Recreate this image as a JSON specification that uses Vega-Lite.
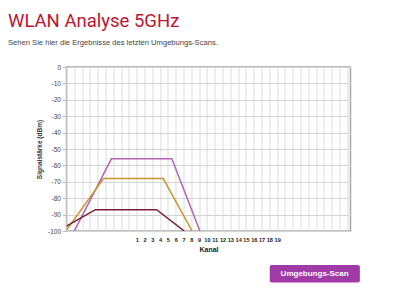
{
  "$schema": "https://vega.github.io/schema/vega-lite/v6.json",
  "width": 284,
  "height": 164,
  "autosize": {"type": "none"},
  "padding": {"left": 66.5, "top": 67, "right": 49.5, "bottom": 72},
  "background": "white",
  "config": {
    "view": {"stroke": "#a6a6a6", "strokeWidth": 1.5},
    "font": "Liberation Sans"
  },
  "title": {
    "text": "WLAN Analyse 5GHz",
    "subtitle": "Sehen Sie hier die Ergebnisse des letzten Umgebungs-Scans.",
    "anchor": "start",
    "frame": "group",
    "dx": -58.5,
    "offset": 17,
    "font": "Roboto",
    "fontSize": 18.5,
    "fontWeight": 400,
    "color": "#bf1330",
    "subtitleFont": "Liberation Sans",
    "subtitleFontSize": 7.6,
    "subtitleColor": "#444444",
    "subtitlePadding": 9
  },
  "encoding": {
    "x": {
      "field": "ch",
      "type": "quantitative",
      "scale": {"domain": [-8, 28.4], "nice": false, "zero": false},
      "axis": {
        "title": "Kanal",
        "titleFontSize": 7,
        "titleFontWeight": "bold",
        "titleColor": "#222222",
        "titlePadding": 3,
        "values": [-8,-7,-6,-5,-4,-3,-2,-1,0,1,2,3,4,5,6,7,8,9,10,11,12,13,14,15,16,17,18,19,20,21,22,23,24,25,26,27,28],
        "labelExpr": "datum.value >= 1 && datum.value <= 19 ? '' + datum.value : ''",
        "labelFontSize": 5.6,
        "labelFontWeight": "bold",
        "labelColor": "#222222",
        "labelPadding": 6,
        "ticks": false,
        "domain": false,
        "grid": true,
        "gridColor": "#dcdcdc",
        "gridWidth": 1
      }
    },
    "y": {
      "field": "dbm",
      "type": "quantitative",
      "scale": {"domain": [-100, 0], "nice": false, "zero": false},
      "axis": {
        "title": "Signalstärke (dBm)",
        "titleFontSize": 6.5,
        "titleFontWeight": "bold",
        "titleColor": "#333333",
        "titlePadding": 5,
        "values": [0,-10,-20,-30,-40,-50,-60,-70,-80,-90,-100],
        "labelExpr": "'' + datum.value",
        "labelFontSize": 6.5,
        "labelColor": "#444444",
        "labelPadding": 2,
        "tickSize": 4,
        "tickColor": "#bbbbbb",
        "domain": false,
        "grid": true,
        "gridColor": "#d4d4d4",
        "gridWidth": 1
      }
    }
  },
  "layer": [
    {
      "data": {
        "values": [
          {"net": "A", "ord": 1, "ch": -7.0, "dbm": -100},
          {"net": "A", "ord": 2, "ch": -2.25, "dbm": -56},
          {"net": "A", "ord": 3, "ch": 5.5, "dbm": -56},
          {"net": "A", "ord": 4, "ch": 9.1, "dbm": -100},
          {"net": "B", "ord": 1, "ch": -8.0, "dbm": -99.5},
          {"net": "B", "ord": 2, "ch": -3.25, "dbm": -68},
          {"net": "B", "ord": 3, "ch": 4.4, "dbm": -68},
          {"net": "B", "ord": 4, "ch": 8.1, "dbm": -100},
          {"net": "C", "ord": 1, "ch": -8.0, "dbm": -97},
          {"net": "C", "ord": 2, "ch": -4.3, "dbm": -87},
          {"net": "C", "ord": 3, "ch": 3.55, "dbm": -87},
          {"net": "C", "ord": 4, "ch": 7.1, "dbm": -100}
        ]
      },
      "mark": {"type": "line", "strokeWidth": 1.5, "clip": true},
      "encoding": {
        "color": {
          "field": "net",
          "type": "nominal",
          "scale": {"domain": ["A", "B", "C"], "range": ["#b163b6", "#c99530", "#7b1c3c"]},
          "legend": null
        },
        "order": {"field": "ord", "type": "quantitative"}
      }
    },
    {
      "data": {"values": [{"ch": 18.05, "ch2": 29.6, "dbm": -120.8, "dbm2": -131.4}]},
      "mark": {"type": "rect", "color": "#a03aa6", "cornerRadius": 2, "clip": false},
      "encoding": {
        "x2": {"field": "ch2"},
        "y2": {"field": "dbm2"}
      }
    },
    {
      "data": {"values": [{"ch": 23.8, "dbm": -126.2, "label": "Umgebungs-Scan"}]},
      "mark": {"type": "text", "color": "white", "fontWeight": "bold", "fontSize": 8, "font": "Liberation Sans", "align": "center", "baseline": "middle", "clip": false},
      "encoding": {
        "text": {"field": "label", "type": "nominal"}
      }
    }
  ]
}
